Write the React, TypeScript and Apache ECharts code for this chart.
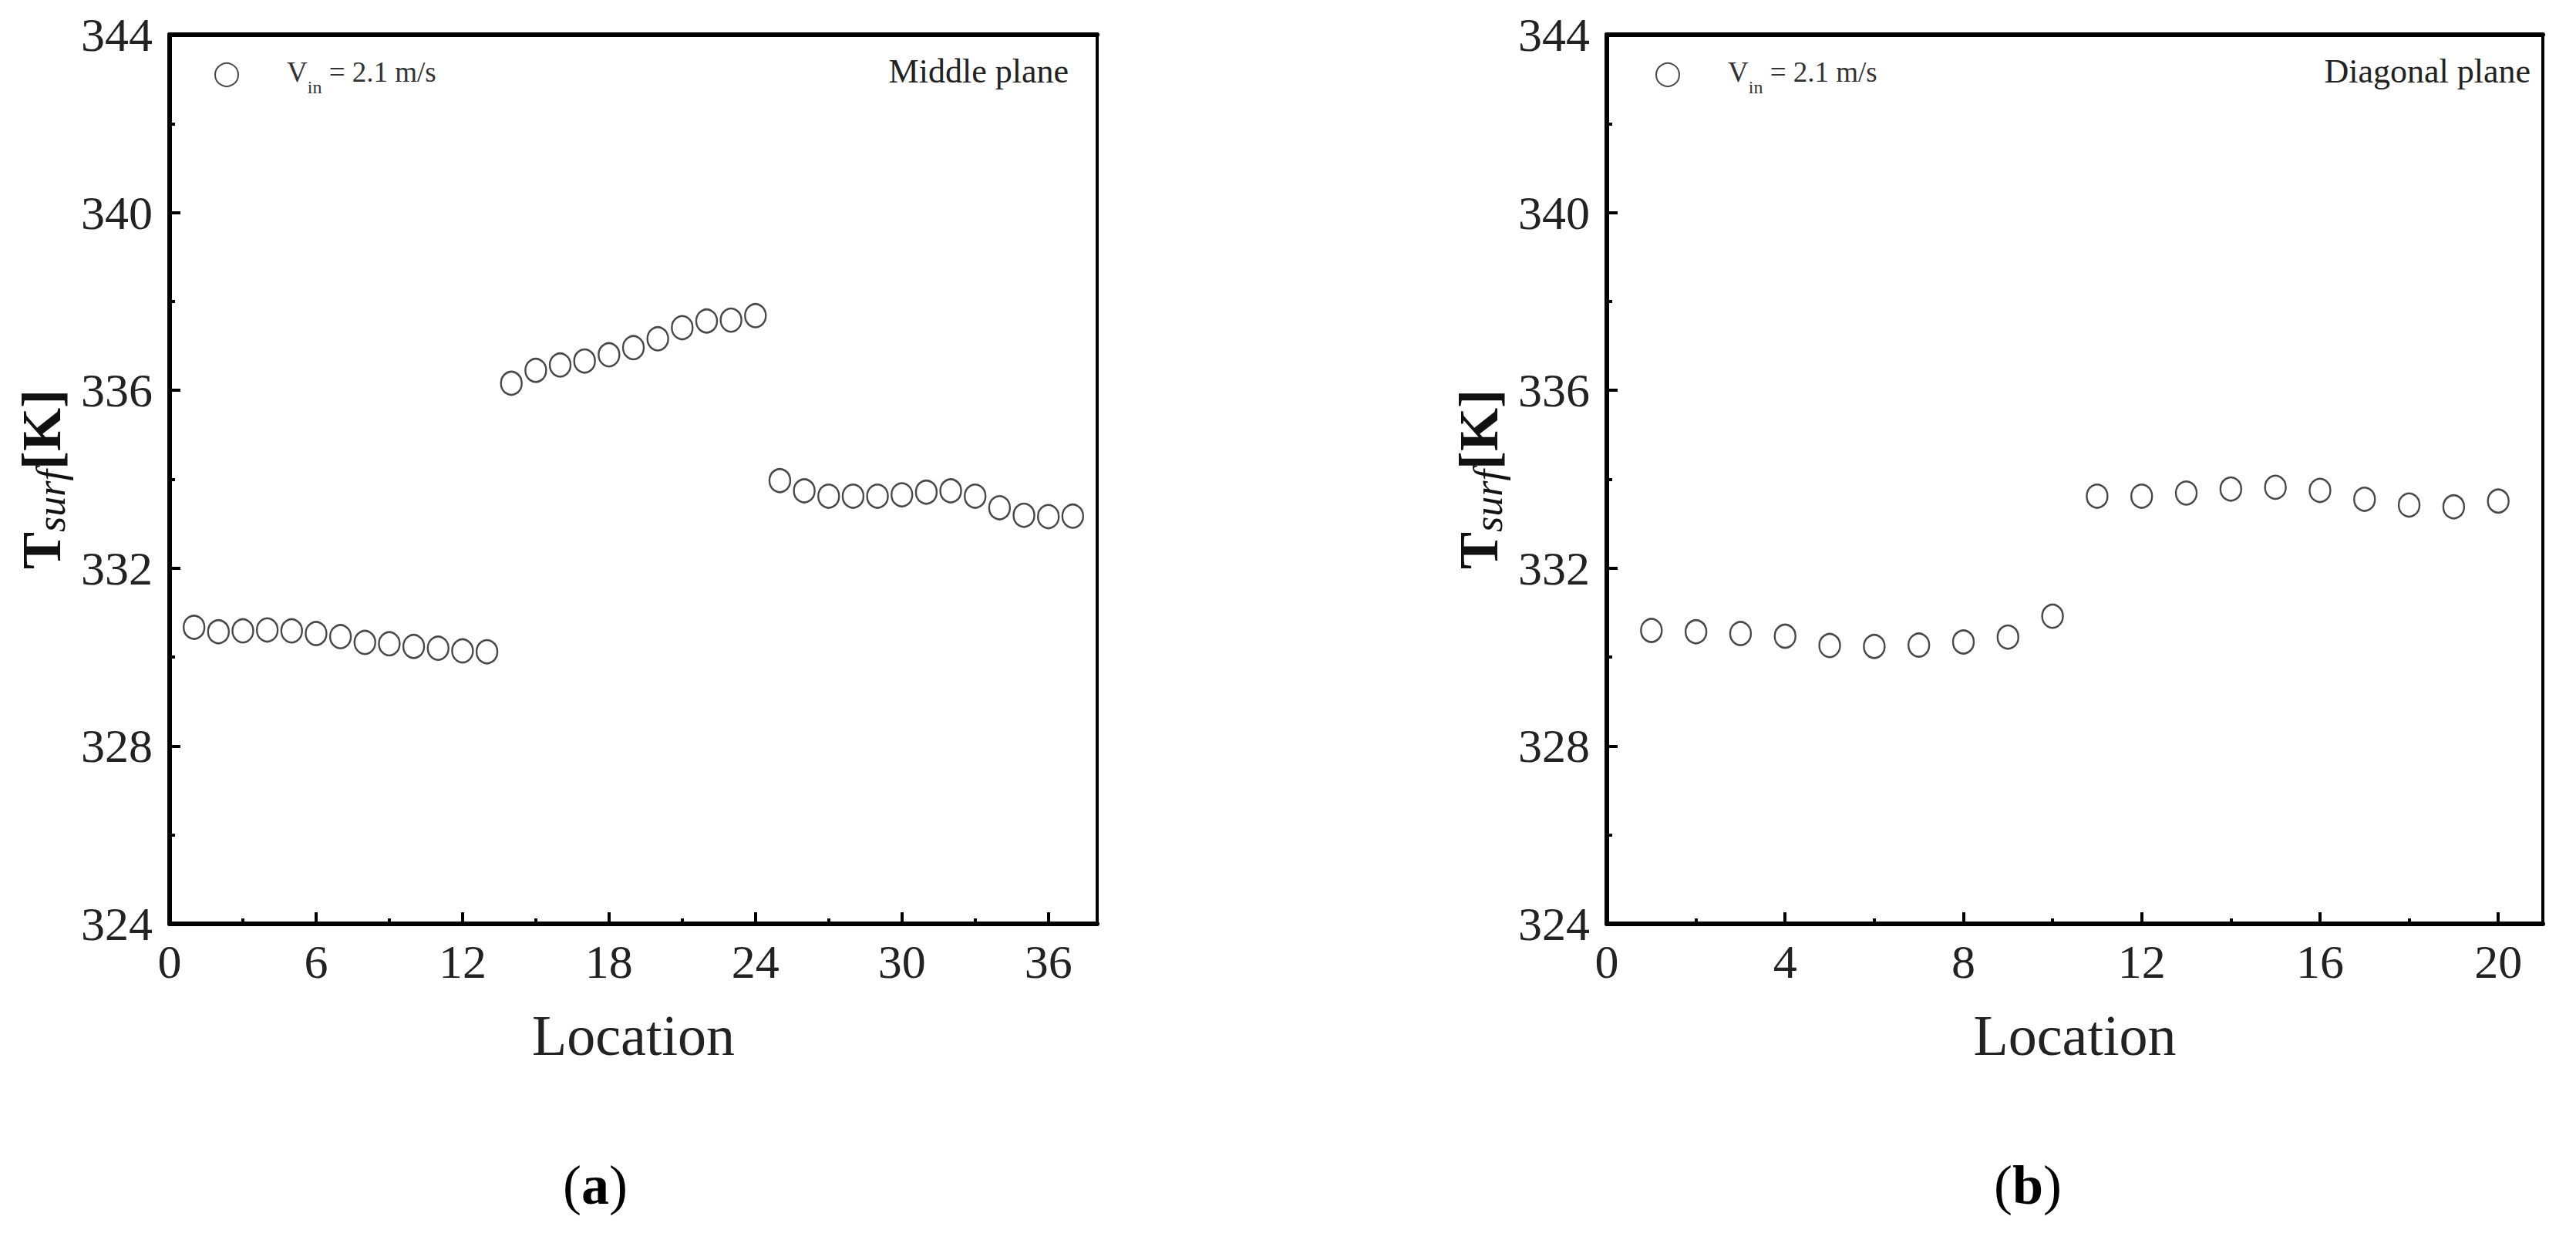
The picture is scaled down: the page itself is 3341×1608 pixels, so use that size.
import React, { useEffect, useRef } from "react";
import * as echarts from "echarts";

// ---- data ----
const locationsA = [1, 2, 3, 4, 5, 6, 7, 8, 9, 10, 11, 12, 13, 14, 15, 16, 17, 18, 19, 20, 21, 22, 23, 24, 25, 26, 27, 28, 29, 30, 31, 32, 33, 34, 35, 36, 37];
const tempA = [
  330.67, 330.57, 330.59, 330.61, 330.59, 330.53, 330.46, 330.33, 330.3, 330.24, 330.2, 330.14, 330.12,
  336.16, 336.45, 336.57, 336.66, 336.8, 336.96, 337.16, 337.41, 337.56, 337.58, 337.68,
  333.97, 333.74, 333.62, 333.62, 333.62, 333.65, 333.71, 333.74, 333.62, 333.36, 333.19, 333.16, 333.17,
];
const locationsB = [1, 2, 3, 4, 5, 6, 7, 8, 9, 10, 11, 12, 13, 14, 15, 16, 17, 18, 19, 20];
const tempB = [
  330.6, 330.57, 330.53, 330.47, 330.26, 330.24, 330.27, 330.34, 330.45, 330.92,
  333.62, 333.62, 333.69, 333.78, 333.82, 333.75, 333.55, 333.42, 333.38, 333.51,
];
const planeLabels = ["Middle plane", "Diagonal plane"];
const panelLabels = ["a", "b"];
const legendText = { v: "V", sub: "in", rest: " = 2.1 m/s" };
const yRange = [324, 344];
const xRangeA = [0, 38];
const xRangeB = [0, 21];

const FONT = "Liberation Serif";
const INK = "#222";

function makeX(gridIndex: number, max: number, interval: number, minor: number) {
  return [
    {
      gridIndex, type: "value", min: 0, max, interval, position: "bottom",
      axisLine: { show: true, onZero: false, lineStyle: { color: "#000", width: 6 } },
      axisTick: { show: true, inside: true, length: 15, lineStyle: { color: "#000", width: 4 } },
      axisLabel: {
        formatter: (v: number) => (v % interval === 0 ? String(v) : ""),
        fontSize: 62, color: INK, fontFamily: FONT, margin: 18,
      },
      splitLine: { show: false },
      name: "Location", nameLocation: "middle", nameGap: 108,
      nameTextStyle: { fontSize: 74, color: INK, fontFamily: FONT },
    },
    {
      gridIndex, type: "value", min: 0, max, interval: minor, position: "bottom",
      axisLine: { show: false, onZero: false },
      axisTick: { show: true, inside: true, length: 7, lineStyle: { color: "#000", width: 4 } },
      axisLabel: { show: false }, splitLine: { show: false },
    },
    {
      gridIndex, type: "value", min: 0, max, position: "top",
      axisLine: { show: true, onZero: false, lineStyle: { color: "#000", width: 6 } },
      axisTick: { show: false }, axisLabel: { show: false }, splitLine: { show: false },
    },
  ];
}

function makeY(gridIndex: number) {
  return [
    {
      gridIndex, type: "value", min: yRange[0], max: yRange[1], interval: 4, position: "left",
      axisLine: { show: true, onZero: false, lineStyle: { color: "#000", width: 6 } },
      axisTick: { show: true, inside: true, length: 14, lineStyle: { color: "#000", width: 4 } },
      minorTick: { show: true, splitNumber: 2, length: 7, lineStyle: { color: "#000", width: 4 } },
      axisLabel: { fontSize: 62, color: INK, fontFamily: FONT, margin: 22 },
      splitLine: { show: false },
      name: "{b|T}{s|surf}{b|[K]}", nameLocation: "middle", nameRotate: 90, nameGap: 128,
      nameTextStyle: {
        fontFamily: FONT, color: "#111",
        rich: {
          b: { fontSize: 72, fontWeight: "bold", fontFamily: FONT, color: "#111", lineHeight: 76 },
          s: { fontSize: 52, fontStyle: "italic", fontFamily: FONT, color: "#111", verticalAlign: "bottom", lineHeight: 60 },
        },
      },
    },
    {
      gridIndex, type: "value", min: yRange[0], max: yRange[1], position: "right",
      axisLine: { show: true, onZero: false, lineStyle: { color: "#000", width: 4 } },
      axisTick: { show: false }, axisLabel: { show: false }, splitLine: { show: false },
    },
  ];
}

function legendFor(name: string, left: number) {
  return {
    data: [name], left, top: 70, itemWidth: 30, itemHeight: 30, icon: "circle",
    formatter: () => `{v|${legendText.v}}{s|${legendText.sub}}{t|${legendText.rest}}`,
    textStyle: {
      rich: {
        v: { fontSize: 37, fontFamily: FONT, color: "#333", lineHeight: 44, verticalAlign: "top", padding: [0, 0, 0, 58] },
        s: { fontSize: 24, fontFamily: FONT, color: "#333", lineHeight: 24, verticalAlign: "top", padding: [26, 0, 0, 0] },
        t: { fontSize: 37, fontFamily: FONT, color: "#333", lineHeight: 44, verticalAlign: "top" },
      },
    },
  };
}

const markerStyle = { color: "rgba(0,0,0,0)", borderColor: "#1a1a1a", borderWidth: 2.5 };

function panelText(label: string, x: number) {
  return {
    type: "text", x, y: 1537,
    style: {
      text: `{p|(}{b|${label}}{p|)}`, align: "center", verticalAlign: "middle",
      rich: {
        p: { fontSize: 72, fontFamily: FONT, fill: "#000" },
        b: { fontSize: 72, fontWeight: "bold", fontFamily: FONT, fill: "#000" },
      },
    },
  };
}

export default function App() {
  const ref = useRef<HTMLDivElement>(null);
  useEffect(() => {
    if (!ref.current) return;
    const chart = echarts.init(ref.current, null, { renderer: "svg" });
    const option = {
      animation: false,
      backgroundColor: "#fff",
      textStyle: { fontFamily: FONT },
      grid: [
        { left: 220, top: 45, width: 1203, height: 1153 },
        { left: 2084, top: 45, width: 1214, height: 1153 },
      ],
      xAxis: [...makeX(0, xRangeA[1], 6, 3), ...makeX(1, xRangeB[1], 4, 2)],
      yAxis: [...makeY(0), ...makeY(1)],
      legend: [legendFor("a", 273), legendFor("b", 2142)],
      series: [
        {
          name: "a", type: "scatter", xAxisIndex: 0, yAxisIndex: 0,
          symbol: "circle", symbolSize: [27, 30], itemStyle: markerStyle,
          data: locationsA.map((x, i) => [x, tempA[i]]),
        },
        {
          name: "b", type: "scatter", xAxisIndex: 3, yAxisIndex: 2,
          symbol: "circle", symbolSize: [27, 30], itemStyle: markerStyle,
          data: locationsB.map((x, i) => [x, tempB[i]]),
        },
      ],
      graphic: [
        { type: "text", right: 3341 - 1386, top: 70, style: { text: planeLabels[0], font: `44px "${FONT}"`, fill: INK } },
        { type: "text", right: 3341 - 3282, top: 70, style: { text: planeLabels[1], font: `44px "${FONT}"`, fill: INK } },
        panelText(panelLabels[0], 772),
        panelText(panelLabels[1], 2630),
      ],
    };
    chart.setOption(option as any);
    return () => chart.dispose();
  }, []);
  return <div ref={ref} style={{ position: "fixed", left: 0, top: 0, width: 3341, height: 1608 }} />;
}
